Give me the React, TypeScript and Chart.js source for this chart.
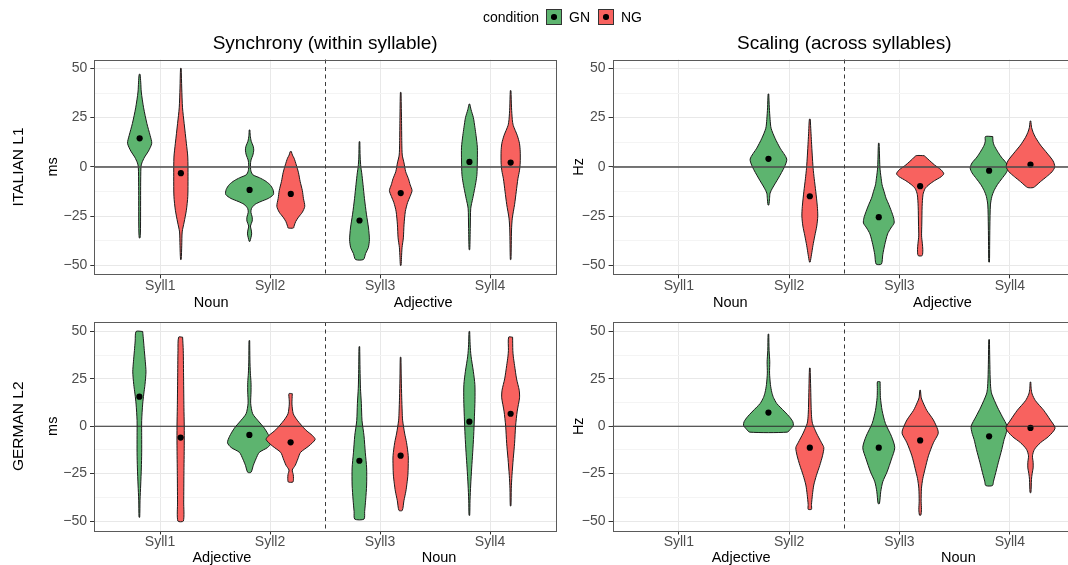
import React, { useEffect, useRef } from 'react';
import { Chart, registerables } from 'chart.js';

Chart.register(...registerables);

const FONT = '"Liberation Sans", Arial, Helvetica, sans-serif';
const GREEN = '#5DB46F';
const RED = '#F8625F';
const OUTLINE = '#1a1a1a';

// ---------- data ----------
const categories = ['Syll1', 'Syll2', 'Syll3', 'Syll4'];
const conditionNames = ['GN', 'NG'];
const majorTicks = [-50, -25, 0, 25, 50];
const gridTicks = [-50, -37.5, -25, -12.5, 0, 12.5, 25, 37.5, 50];

// violin outlines: [value, half-width in hundredths of a category]
// ITALIAN L1 - Synchrony (ms)
const itSyncGN1 = [[47, 0.4], [43, 1], [38, 1.5], [30, 3.6], [22, 6.6], [16, 9.5], [12, 11], [8, 8], [5, 4.5], [2, 2], [0, 1.2], [-10, 0.9], [-30, 0.8], [-36, 0.4]];
const itSyncGN2 = [[18.75, 0.3], [16, 0.6], [13, 1.5], [10.5, 3.3], [8.5, 3.8], [6, 3], [3.5, 1.3], [1, 0.8], [-2, 1.2], [-4, 3], [-5.5, 9], [-7, 14], [-9, 18.5], [-11.5, 21.3], [-14, 21.7], [-16, 17], [-17.5, 10.5], [-19, 5], [-21, 1.8], [-23, 1.2], [-25.5, 2.4], [-27.5, 2.4], [-30, 0.8], [-32, 1.5], [-34, 1.9], [-36, 1.2], [-37.8, 0.3]];
const itSyncGN3 = [[12.8, 0.3], [5, 0.6], [0, 1.2], [-3, 2], [-9, 3.2], [-16, 4.5], [-24, 6.3], [-31, 8.2], [-37, 9], [-41, 8], [-44, 5.5], [-47, 3.6]];
const itSyncGN4 = [[31.9, 0.3], [29, 1.5], [25, 3.6], [20, 5], [16, 6], [10, 7.2], [3, 7.2], [-4, 6.8], [-8, 5.8], [-11, 4.8], [-16, 3], [-21, 1.2], [-30, 0.8], [-42, 0.3]];
const itSyncNG1 = [[50, 0.3], [40, 0.8], [30, 1.5], [22, 3], [12, 5], [5, 6.3], [-5, 6.5], [-15, 6.3], [-22, 5], [-28, 3], [-33, 1.2], [-40, 0.8], [-47, 0.3]];
const itSyncNG2 = [[7.8, 0.5], [6, 1.5], [4.4, 3], [1, 5], [-3, 7], [-7.4, 8.5], [-12, 10.5], [-16, 11.5], [-20, 12.7], [-23, 10.5], [-25.5, 7], [-27.7, 4.5], [-30, 3], [-31, 2.4]];
const itSyncNG3 = [[37.8, 0.3], [25, 0.7], [12, 1], [6, 1.4], [2, 3], [-2.4, 4.5], [-6, 7], [-9.1, 8.6], [-12, 10.3], [-15, 8.5], [-18, 6.3], [-22.6, 4.2], [-29.4, 3], [-36, 2.4], [-41, 1.2], [-46, 0.7], [-50, 0.3]];
const itSyncNG4 = [[38.7, 0.3], [30, 0.8], [24, 1.5], [21, 2.4], [16, 6], [12, 8], [8, 8.7], [2, 8.7], [-2, 8], [-6, 6.6], [-12.5, 5.1], [-19, 3.6], [-26, 1.5], [-32, 0.8], [-47, 0.3]];
const itSyncGNMeans = [14.5, -11.7, -27.2, 2.5];
const itSyncNGMeans = [-3.2, -13.7, -13.3, 2.2];

// ITALIAN L1 - Scaling (Hz)
const itScalGN2 = [[37, 0.3], [30, 0.8], [24, 1.5], [19.6, 2.4], [14.5, 6], [9.5, 10.6], [4, 16.6], [0, 14.5], [-5.7, 9], [-10.8, 3.6], [-13.3, 1.5], [-16, 1], [-19.3, 0.4]];
const itScalGN3 = [[12, 0.3], [5, 0.7], [0, 1], [-3, 1.5], [-6, 2.2], [-9.1, 3], [-12.5, 4.8], [-15.9, 6.6], [-19, 9], [-22.6, 11.5], [-26, 13.5], [-28.5, 13.9], [-31, 11], [-34, 8], [-39.5, 5.4], [-44.6, 3.6], [-49.3, 2.4]];
const itScalGN4 = [[15.4, 3.3], [13, 3.5], [11, 4.5], [8, 7.5], [5, 11], [2, 15.5], [-0.5, 17.2], [-3, 15.5], [-6, 11.5], [-9, 7.5], [-12, 4.5], [-15, 2.5], [-19.3, 1.2], [-30, 0.7], [-40, 0.5], [-48.3, 0.3]];
const itScalNG2 = [[24.2, 0.4], [18, 1], [12.8, 1.5], [6, 2.2], [-0.7, 3], [-6, 4], [-12.5, 5.4], [-20, 6.8], [-25, 7.2], [-30, 6.3], [-35, 4.5], [-40, 2.8], [-44.6, 1.5], [-48.3, 0.3]];
const itScalNG3 = [[5.7, 3.6], [4, 7], [1, 13], [-1.5, 19], [-3.5, 21.4], [-5, 19], [-7, 13], [-9, 8], [-11, 4.5], [-14, 2.6], [-20, 1.8], [-29, 1.5], [-35, 1.3], [-39, 2], [-42, 2.4], [-45, 1.8]];
const itScalNG4 = [[23.3, 0.3], [20, 1], [17.5, 2.4], [15, 4.5], [11.1, 9], [7, 15], [3, 20.5], [0, 22], [-2.5, 19.5], [-5, 14.5], [-7.5, 9], [-9.5, 5], [-10.5, 2.5]];
const itScalGNMeans = [null, 4.1, -25.5, -1.9];
const itScalNGMeans = [null, -14.9, -9.8, 1.2];

// GERMAN L2 - Synchrony (ms)
const deSyncGN1 = [[50, 3], [45, 3.8], [40, 4.5], [34, 5.4], [28.7, 6], [22, 5.1], [17, 4], [11.7, 3], [3, 2.1], [-5, 2.1], [-14, 2.1], [-22, 1.8], [-31, 1.2], [-39, 0.6], [-48, 0.3]];
const deSyncGN2 = [[45.2, 0.3], [35, 0.5], [28, 0.9], [23, 1.5], [18, 1.5], [12, 1.2], [6.6, 3], [3.2, 7.5], [-1, 13.6], [-5.3, 18], [-8.7, 19.9], [-11.2, 16.6], [-13.8, 9], [-17.2, 6], [-20.6, 3.6], [-24.3, 1.5]];
const deSyncGN3 = [[42, 0.3], [30, 0.6], [20, 1], [12, 1.8], [3, 2.4], [-5, 4.2], [-14, 5.4], [-22, 6.6], [-31, 6.6], [-39, 5.7], [-45, 4.8], [-49, 4.2]];
const deSyncGN4 = [[50, 0.3], [43, 0.7], [37, 1.5], [29, 3.6], [22, 5], [14, 5.1], [5, 4.6], [-5, 3.9], [-14, 3], [-22, 2.1], [-31, 1.2], [-39, 0.6], [-47, 0.3]];
const deSyncNG1 = [[47, 1.8], [40, 2.4], [25, 2.7], [10, 3], [0, 3.3], [-10, 3.3], [-25, 3], [-40, 2.8], [-50, 2.5]];
const deSyncNG2 = [[17.2, 1.5], [14, 1.3], [11.7, 1.2], [6.6, 2.4], [3.2, 6], [-1.9, 13.6], [-5, 20], [-7, 22.3], [-10.4, 16.6], [-13.8, 9], [-17.2, 6.6], [-20.6, 4.2], [-23.1, 1.5], [-25.5, 2.4], [-27.5, 2.6], [-29.4, 2.1]];
const deSyncNG3 = [[36.4, 0.3], [25, 0.6], [15, 1], [8, 1.4], [3.2, 1.8], [-3.6, 3.6], [-8.7, 5.4], [-15.5, 6.9], [-21, 6.9], [-25.7, 6.6], [-30, 5.8], [-34.2, 4.8], [-39.3, 3], [-44.4, 1.5]];
const deSyncNG4 = [[47, 1.8], [40, 2], [37, 2.4], [32, 3.6], [25, 5.4], [19, 7.8], [15, 8.1], [8, 6], [0, 4.5], [-9, 3.6], [-17, 2.4], [-26, 1.2], [-33, 0.6], [-42, 0.3]];
const deSyncGNMeans = [15.6, -4.6, -18.2, 2.4];
const deSyncNGMeans = [-6, -8.5, -15.5, 6.6];

// GERMAN L2 - Scaling (Hz)
const deScalGN2 = [[48.6, 0.3], [40, 0.6], [34, 1.2], [28, 1], [22, 1.8], [18, 3], [15.2, 4.5], [12, 7.5], [10.1, 10.6], [7.5, 15], [5, 19], [2.5, 22], [0.5, 22.6], [-1.5, 20], [-3.1, 17]];
const deScalGN3 = [[23.5, 1.2], [20, 1.3], [15.2, 1.5], [8.4, 3], [1.5, 6], [-5.3, 11.5], [-11.3, 14.5], [-17.3, 11.5], [-24.1, 7.5], [-29.3, 3.6], [-34.4, 1.8], [-40.8, 0.6]];
const deScalGN4 = [[45.7, 0.3], [35, 0.6], [25, 1], [20, 1.5], [17, 2.4], [10.1, 7.5], [5, 12], [0, 16.3], [-3.5, 15.5], [-7, 13.6], [-12.2, 11.5], [-19, 8.4], [-25.9, 5.4], [-29, 4], [-31.3, 3]];
const deScalNG2 = [[30.7, 0.3], [20, 0.8], [10, 1.2], [5, 1.6], [1.5, 2.4], [-3.6, 6], [-8.7, 10.6], [-11.3, 12.7], [-15.6, 11.5], [-20.7, 9], [-25.9, 6], [-31, 3.6], [-36, 2.4], [-41.3, 1.5], [-43.8, 1.5]];
const deScalNG3 = [[19, 0.3], [15, 1], [12.7, 2.5], [8.4, 6], [3.3, 12], [-1.9, 16], [-4, 16.3], [-8.7, 12], [-15.6, 7.5], [-22.4, 4.5], [-27.6, 2.4], [-32.7, 1.2], [-39.6, 0.9], [-44, 1.2], [-46.9, 0.6]];
const deScalNG4 = [[23.3, 0.3], [20, 0.6], [17, 1.5], [13.5, 4.5], [8.4, 12], [3.3, 18], [-1, 22.3], [-5.3, 16.6], [-8.7, 9], [-12.2, 3.6], [-15.6, 1.8], [-19, 2.4], [-22, 2.4], [-25, 1.5], [-28, 0.9], [-35, 0.4]];
const deScalGNMeans = [null, 7.2, -11.3, -5.3];
const deScalNGMeans = [null, -11.3, -7.5, -0.9];

// ---------- helpers ----------
type Profile = number[][] | null;
const DODGE = 0.1875;

function violinPoints(center: number, profile: number[][]) {
  const right = profile.map(([v, w]) => ({ x: center + w * 0.01, y: v }));
  const left = profile.slice().reverse().map(([v, w]) => ({ x: center - w * 0.01, y: v }));
  return [...right, ...left, right[0]];
}

function fmt(v: number) {
  return v < 0 ? '\u2212' + Math.abs(v) : String(v);
}

interface PanelCfg {
  id: string;
  gn: Profile[];
  ng: Profile[];
  gnMeans: (number | null)[];
  ngMeans: (number | null)[];
  yMax: number;
  yTitle: string;
  title?: string;
  rowLabel?: string;
  groupLeft: string;
  groupRight: string;
  left: number; top: number; w: number; h: number;
  padTop: number; padRight: number; yAxisW: number; xAxisH: number;
  titleY: number; yTitleX: number; rowLabelX: number; groupY: number;
  groupLeftOff: number; groupRightOff: number;
  hlineColor: string; hlineWidth: number;
}

const decorPlugin = {
  id: 'decor',
  afterDatasetsDraw(chart: any, _args: any, opts: any) {
    const { ctx, chartArea: a, scales } = chart;
    const x = scales.x, y = scales.y;
    ctx.save();
    const y0 = y.getPixelForValue(0);
    ctx.strokeStyle = opts.hlineColor;
    ctx.lineWidth = opts.hlineWidth;
    ctx.beginPath();
    ctx.moveTo(a.left, y0);
    ctx.lineTo(a.right, y0);
    ctx.stroke();
    const xv = Math.round(x.getPixelForValue(2.5)) + 0.5;
    ctx.setLineDash([4, 3.5]);
    ctx.strokeStyle = '#3a3a3a';
    ctx.lineWidth = 1;
    ctx.beginPath();
    ctx.moveTo(xv, a.top);
    ctx.lineTo(xv, a.bottom);
    ctx.stroke();
    ctx.setLineDash([]);
    ctx.strokeStyle = '#5a5a5a';
    ctx.lineWidth = 1;
    ctx.strokeRect(Math.round(a.left) + 0.5, Math.round(a.top) + 0.5, Math.round(a.right) - Math.round(a.left), Math.round(a.bottom) - Math.round(a.top));
    ctx.restore();
  },
  afterDraw(chart: any, _args: any, opts: any) {
    const { ctx, chartArea: a } = chart;
    const cx = (a.left + a.right) / 2;
    const cy = (a.top + a.bottom) / 2;
    ctx.save();
    ctx.fillStyle = '#000';
    if (opts.title) {
      ctx.font = `19px ${FONT}`;
      ctx.textAlign = 'center';
      ctx.textBaseline = 'alphabetic';
      ctx.fillText(opts.title, cx, opts.titleY);
    }
    ctx.font = `14.5px ${FONT}`;
    ctx.textBaseline = 'alphabetic';
    ctx.textAlign = 'left';
    ctx.fillText(opts.groupLeft, cx + opts.groupLeftOff, opts.groupY);
    ctx.textAlign = 'right';
    ctx.fillText(opts.groupRight, cx + opts.groupRightOff, opts.groupY);
    // y axis title
    ctx.save();
    ctx.translate(opts.yTitleX, cy);
    ctx.rotate(-Math.PI / 2);
    ctx.textAlign = 'center';
    ctx.fillText(opts.yTitle, 0, 0);
    ctx.restore();
    if (opts.rowLabel) {
      ctx.save();
      ctx.font = `15.5px ${FONT}`;
      ctx.translate(opts.rowLabelX, cy);
      ctx.rotate(-Math.PI / 2);
      ctx.textAlign = 'center';
      ctx.fillText(opts.rowLabel, 0, 0);
      ctx.restore();
    }
    ctx.restore();
  },
};

function buildConfig(cfg: PanelCfg): any {
  const datasets: any[] = [];
  const meanPts: any[] = [];
  cfg.gnMeans.forEach((m, i) => { if (m !== null) meanPts.push({ x: i + 1 - DODGE, y: m }); });
  cfg.ngMeans.forEach((m, i) => { if (m !== null) meanPts.push({ x: i + 1 + DODGE, y: m }); });
  datasets.push({
    label: 'mean', data: meanPts, order: 0, showLine: false,
    pointRadius: 3.1, pointBackgroundColor: '#000', pointBorderColor: '#000', pointBorderWidth: 0,
  });
  const addViolins = (profiles: Profile[], sign: number, color: string, order: number, name: string) => {
    profiles.forEach((p, i) => {
      if (!p) return;
      datasets.push({
        label: `${name} ${categories[i]}`,
        data: violinPoints(i + 1 + sign * DODGE, p),
        order, showLine: true, fill: 'shape', tension: 0.25,
        backgroundColor: color, borderColor: OUTLINE, borderWidth: 1,
        pointRadius: 0, pointHoverRadius: 0,
      });
    });
  };
  addViolins(cfg.ng, 1, RED, 1, conditionNames[1]);
  addViolins(cfg.gn, -1, GREEN, 2, conditionNames[0]);

  const isMajor = (v: number) => majorTicks.includes(v);
  return {
    type: 'scatter',
    data: { datasets },
    plugins: [decorPlugin],
    options: {
      animation: false,
      responsive: false,
      maintainAspectRatio: false,
      devicePixelRatio: 1,
      events: [],
      layout: { padding: { top: cfg.padTop, right: cfg.padRight, left: 0, bottom: 0 } },
      plugins: {
        legend: { display: false },
        tooltip: { enabled: false },
        decor: {
          title: cfg.title, titleY: cfg.titleY, yTitle: cfg.yTitle, yTitleX: cfg.yTitleX,
          rowLabel: cfg.rowLabel, rowLabelX: cfg.rowLabelX,
          groupLeft: cfg.groupLeft, groupRight: cfg.groupRight, groupY: cfg.groupY,
          groupLeftOff: cfg.groupLeftOff, groupRightOff: cfg.groupRightOff,
          hlineColor: cfg.hlineColor, hlineWidth: cfg.hlineWidth,
        },
      },
      scales: {
        x: {
          type: 'linear', min: 0.4, max: 4.6,
          afterBuildTicks: (s: any) => { s.ticks = categories.map((_, i) => ({ value: i + 1 })); },
          afterFit: (s: any) => { s.height = cfg.xAxisH; },
          ticks: {
            callback: (v: number) => categories[Math.round(v) - 1] ?? '',
            font: { family: FONT, size: 14, lineHeight: 1 }, color: '#4D4D4D',
            padding: 1, autoSkip: false, maxRotation: 0, minRotation: 0,
          },
          grid: { color: '#E8E8E8', lineWidth: 1, tickLength: 4, tickColor: '#333' },
          border: { display: false },
        },
        y: {
          type: 'linear', min: -cfg.yMax, max: cfg.yMax,
          afterBuildTicks: (s: any) => { s.ticks = gridTicks.map((v) => ({ value: v })); },
          afterFit: (s: any) => { s.width = cfg.yAxisW; },
          ticks: {
            callback: (v: number) => (isMajor(v) ? fmt(v) : ''),
            font: { family: FONT, size: 14, lineHeight: 1 }, color: '#4D4D4D',
            padding: 3, autoSkip: false,
          },
          grid: {
            color: (c: any) => (c.tick && isMajor(c.tick.value) ? '#E8E8E8' : '#F4F4F4'),
            lineWidth: 1,
            tickLength: 4,
            tickColor: (c: any) => (c.tick && isMajor(c.tick.value) ? '#333' : 'rgba(0,0,0,0)'),
          },
          border: { display: false },
        },
      },
    },
  };
}

const panels: PanelCfg[] = [
  {
    id: 'it-sync', gn: [itSyncGN1, itSyncGN2, itSyncGN3, itSyncGN4], ng: [itSyncNG1, itSyncNG2, itSyncNG3, itSyncNG4],
    gnMeans: itSyncGNMeans, ngMeans: itSyncNGMeans, yMax: 54.5, yTitle: 'ms',
    title: 'Synchrony (within syllable)', rowLabel: 'ITALIAN L1', groupLeft: 'Noun', groupRight: 'Adjective',
    left: 0, top: 0, w: 560, h: 312, padTop: 59.5, padRight: 2, yAxisW: 94.3, xAxisH: 37.7,
    titleY: 49, yTitleX: 56.7, rowLabelX: 23.3, groupY: 306.5, groupLeftOff: -131.3, groupRightOff: 127.5,
    hlineColor: '#4a4a4a', hlineWidth: 1.5,
  },
  {
    id: 'it-scal', gn: [null, itScalGN2, itScalGN3, itScalGN4], ng: [null, itScalNG2, itScalNG3, itScalNG4],
    gnMeans: itScalGNMeans, ngMeans: itScalNGMeans, yMax: 54.5, yTitle: 'Hz',
    title: 'Scaling (across syllables)', groupLeft: 'Noun', groupRight: 'Adjective',
    left: 560, top: 0, w: 520, h: 312, padTop: 59.5, padRight: 3.4, yAxisW: 52.6, xAxisH: 37.7,
    titleY: 49, yTitleX: 22.7, rowLabelX: 0, groupY: 306.5, groupLeftOff: -131.3, groupRightOff: 127.5,
    hlineColor: '#4a4a4a', hlineWidth: 1.5,
  },
  {
    id: 'de-sync', gn: [deSyncGN1, deSyncGN2, deSyncGN3, deSyncGN4], ng: [deSyncNG1, deSyncNG2, deSyncNG3, deSyncNG4],
    gnMeans: deSyncGNMeans, ngMeans: deSyncNGMeans, yMax: 55, yTitle: 'ms',
    rowLabel: 'GERMAN L2', groupLeft: 'Adjective', groupRight: 'Noun',
    left: 0, top: 312, w: 560, h: 253, padTop: 3.2, padRight: 2, yAxisW: 94, xAxisH: 34.5,
    titleY: 0, yTitleX: 56.7, rowLabelX: 23.3, groupY: 249.5, groupLeftOff: -132.6, groupRightOff: 131.4,
    hlineColor: '#2a2a2a', hlineWidth: 1.1,
  },
  {
    id: 'de-scal', gn: [null, deScalGN2, deScalGN3, deScalGN4], ng: [null, deScalNG2, deScalNG3, deScalNG4],
    gnMeans: deScalGNMeans, ngMeans: deScalNGMeans, yMax: 55, yTitle: 'Hz',
    groupLeft: 'Adjective', groupRight: 'Noun',
    left: 560, top: 312, w: 520, h: 253, padTop: 3.2, padRight: 3.4, yAxisW: 52.6, xAxisH: 34.5,
    titleY: 0, yTitleX: 22.7, rowLabelX: 0, groupY: 249.5, groupLeftOff: -132.6, groupRightOff: 131.4,
    hlineColor: '#2a2a2a', hlineWidth: 1.1,
  },
];

function Panel({ cfg }: { cfg: PanelCfg }) {
  const ref = useRef<HTMLCanvasElement>(null);
  useEffect(() => {
    if (!ref.current) return;
    const chart = new Chart(ref.current, buildConfig(cfg));
    return () => chart.destroy();
  }, [cfg]);
  return (
    <canvas
      ref={ref}
      width={cfg.w}
      height={cfg.h}
      style={{ position: 'absolute', left: cfg.left, top: cfg.top, width: cfg.w, height: cfg.h }}
    />
  );
}

function LegendKey({ left, color }: { left: number; color: string }) {
  return (
    <div
      style={{
        position: 'absolute', left, top: 9.3, width: 15.5, height: 15.5, boxSizing: 'border-box',
        background: color, border: '0.8px solid #333',
      }}
    >
      <div
        style={{
          position: 'absolute', left: '50%', top: '50%', width: 5.5, height: 5.5, marginLeft: -2.75, marginTop: -2.75,
          borderRadius: '50%', background: '#000',
        }}
      />
    </div>
  );
}

export default function App() {
  const textStyle: React.CSSProperties = {
    position: 'absolute', top: 9.1, fontSize: 14, lineHeight: '16px', color: '#000', whiteSpace: 'nowrap',
  };
  return (
    <div
      style={{
        position: 'fixed', left: 0, top: 0, width: 1068, height: 565, overflow: 'hidden',
        background: '#fff', fontFamily: FONT,
      }}
    >
      {panels.map((p) => (
        <Panel key={p.id} cfg={p} />
      ))}
      <div style={{ ...textStyle, left: 483 }}>condition</div>
      <LegendKey left={546} color={GREEN} />
      <div style={{ ...textStyle, left: 569 }}>{conditionNames[0]}</div>
      <LegendKey left={598} color={RED} />
      <div style={{ ...textStyle, left: 621 }}>{conditionNames[1]}</div>
    </div>
  );
}
